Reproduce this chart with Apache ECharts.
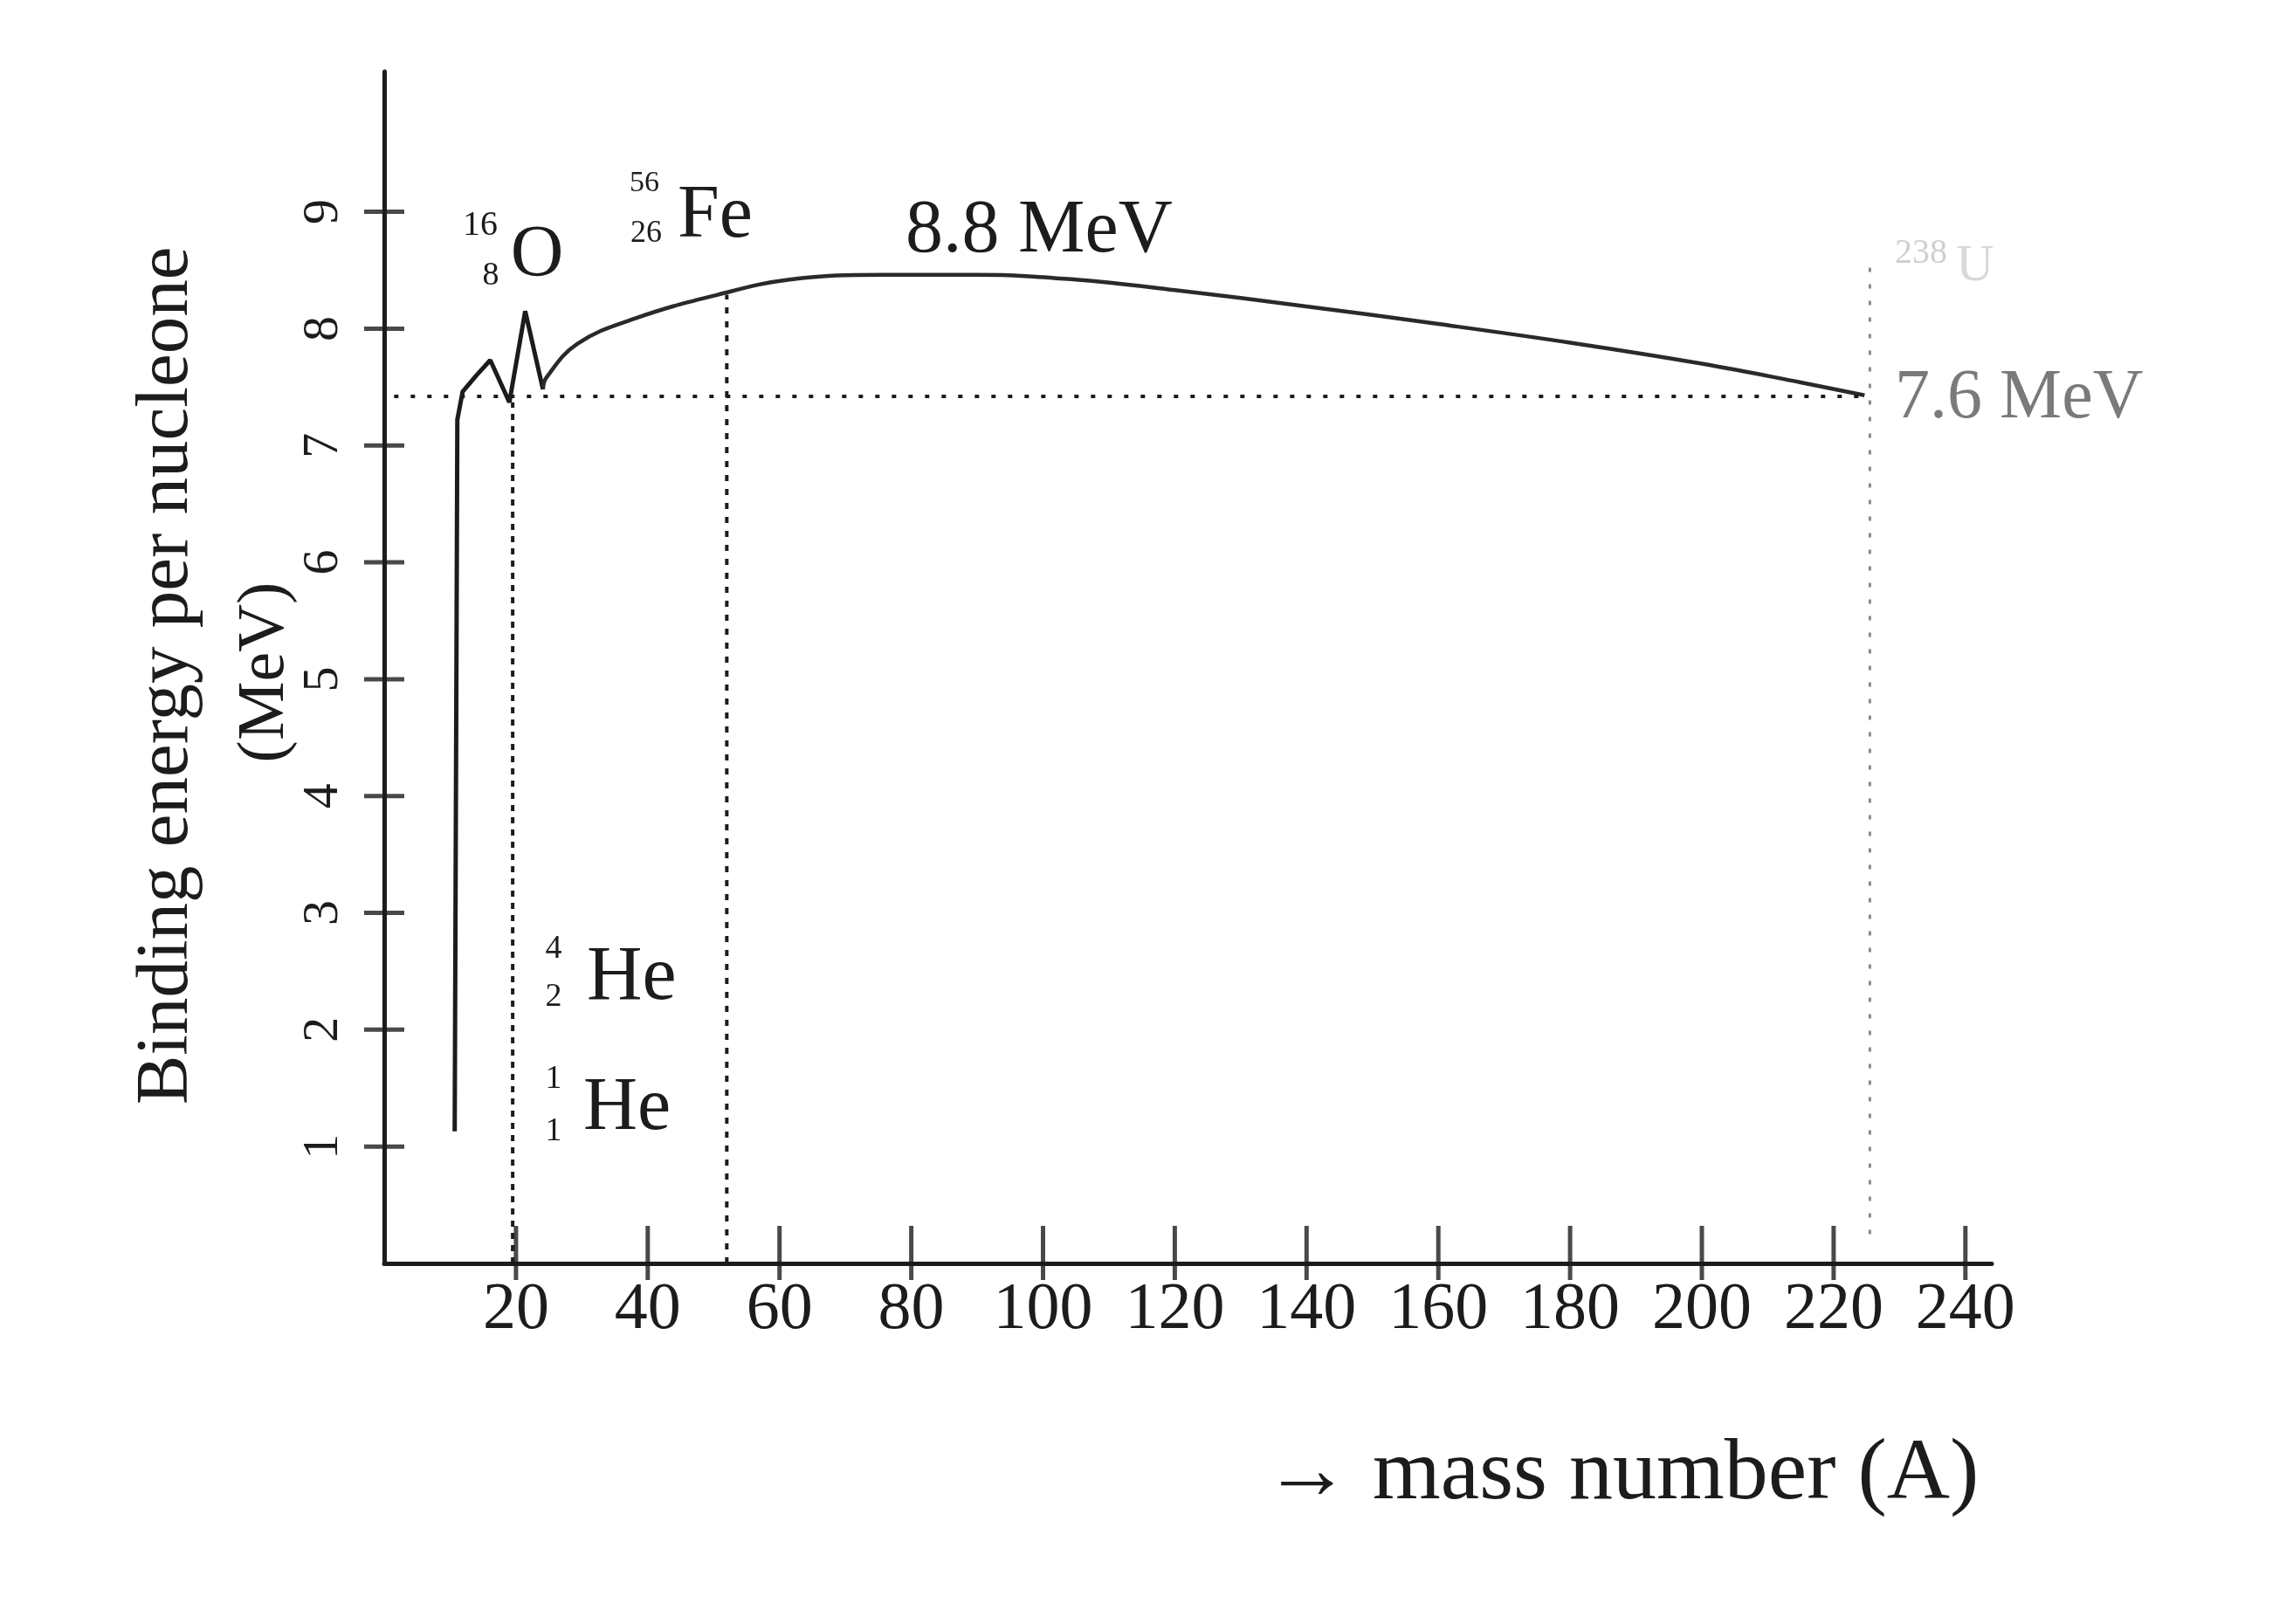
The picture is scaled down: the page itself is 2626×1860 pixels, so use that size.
<!DOCTYPE html>
<html>
<head>
<meta charset="utf-8">
<title>Binding energy per nucleone</title>
<script src="https://cdn.jsdelivr.net/npm/echarts@6/dist/echarts.min.js"></script>
<style>
  html, body { margin: 0; padding: 0; background: #fff; }
  #chart { width: 2626px; height: 1860px; }
</style>
</head>
<body>
<div id="chart"></div>
<script>
// light nuclei, jagged start of the curve
const lightA  = [10.7, 11.1, 11.9, 14.0, 16.1, 19.0, 21.4, 24.1]
const lightBE = [1.13, 7.22, 7.46, 7.60, 7.73, 7.37, 8.15, 7.48]

// main smooth curve
const curveA  = [24.1, 24.6, 29.3, 38.2, 50.6, 61.5, 75.7, 90, 105, 120, 140, 160, 180, 200, 215, 224.7]
const curveBE = [7.48, 7.58, 7.87, 8.09, 8.29, 8.42, 8.46, 8.46, 8.42, 8.33, 8.19, 8.04, 7.88, 7.70, 7.54, 7.43]

// dotted guide lines
const levelA = [1.5, 224.7]
const levelBE = 7.42
const oxyA = 19.5, oxyTop = 7.37
const feA = 52, feTop = 8.29
const uA = 225.5, uTop = 8.6, uBottom = 0.25

// tick values
const xTicks = [20, 40, 60, 80, 100, 120, 140, 160, 180, 200, 220, 240]
const yTicks = [1, 2, 3, 4, 5, 6, 7, 8, 9]

const SERIF = '"Liberation Serif", "DejaVu Serif", serif'
const INK = '#1c1c1c'

let zip = (xs, ys) => xs.map((x, i) => [x, ys[i]])
let vline = (x, y0, y1) => [[x, y0], [x, y1]]

let txt = (text, x, y, size, opts = {}) => ({
  type: 'text',
  x: x, y: y,
  rotation: opts.rotation || 0,
  style: {
    text: text,
    fontSize: size,
    fontFamily: SERIF,
    fill: opts.fill || INK,
    textAlign: opts.align || 'left',
    align: opts.align || 'left',
    textVerticalAlign: 'middle',
    verticalAlign: 'middle'
  }
})

const chart = echarts.init(document.getElementById('chart'))

const option = {
  backgroundColor: '#fff',
  animation: false,
  grid: { left: 440, right: 345, top: 82, bottom: 413 },
  xAxis: {
    type: 'value',
    min: 0, max: 244, interval: 20,
    axisLine: { lineStyle: { color: INK, width: 5 } },
    axisTick: { show: false },
    splitLine: { show: false },
    axisLabel: {
      margin: 16,
      fontSize: 76,
      fontFamily: SERIF,
      color: INK,
      formatter: v => (v > 0 && v % 20 === 0) ? String(v) : ''
    }
  },
  yAxis: {
    type: 'value',
    min: 0, max: 10.2, interval: 1,
    axisLine: { show: true, lineStyle: { color: INK, width: 5 } },
    axisTick: { show: false },
    splitLine: { show: false },
    axisLabel: {
      margin: 40,
      rotate: 90,
      fontSize: 58,
      fontFamily: SERIF,
      color: INK,
      formatter: v => (v >= 1 && v <= 9) ? String(v) : ''
    }
  },
  series: [
    {
      name: 'x ticks', type: 'scatter', clip: false, silent: true,
      symbol: 'rect', symbolSize: [5, 62], symbolOffset: [0, -12],
      itemStyle: { color: INK },
      data: xTicks.map(v => [v, 0])
    },
    {
      name: 'y ticks', type: 'scatter', clip: false, silent: true,
      symbol: 'rect', symbolSize: [46, 5],
      itemStyle: { color: INK },
      data: yTicks.map(v => [0, v])
    },
    {
      name: 'light nuclei', type: 'line', showSymbol: false, clip: false,
      lineStyle: { color: INK, width: 5 },
      data: zip(lightA, lightBE)
    },
    {
      name: 'curve', type: 'line', smooth: 0.4, showSymbol: false,
      lineStyle: { color: '#2a2a2a', width: 4.5 },
      data: zip(curveA, curveBE)
    },
    {
      name: '7.6 MeV level', type: 'line', showSymbol: false,
      lineStyle: { color: INK, width: 4, type: [5, 14] },
      data: levelA.map(a => [a, levelBE])
    },
    {
      name: 'O line', type: 'line', showSymbol: false,
      lineStyle: { color: INK, width: 4, type: [7, 7] },
      data: vline(oxyA, 0, oxyTop)
    },
    {
      name: 'Fe line', type: 'line', showSymbol: false,
      lineStyle: { color: INK, width: 4, type: [7, 9] },
      data: vline(feA, 0, feTop)
    },
    {
      name: 'U line', type: 'line', showSymbol: false,
      lineStyle: { color: '#8a8a8a', width: 3, type: [5, 14] },
      data: vline(uA, uBottom, uTop)
    }
  ],
  graphic: [
    // axis titles
    txt('Binding energy per nucleone', 192, 774, 85, { rotation: Math.PI / 2, align: 'center' }),
    txt('(MeV)', 304, 770, 76, { rotation: Math.PI / 2, align: 'center' }),
    txt('\u2192 mass number (A)', 1447, 1690, 100),

    // 16/8 O
    txt('16', 550, 258, 40, { align: 'center' }),
    txt('8', 562, 316, 38, { align: 'center' }),
    txt('O', 615, 294, 84, { align: 'center' }),

    // 56/26 Fe
    txt('56', 738, 210, 34, { align: 'center' }),
    txt('26', 740, 268, 36, { align: 'center' }),
    txt('Fe', 776, 248, 86),

    txt('8.8 MeV', 1037, 265, 86),
    txt('7.6 MeV', 2170, 457, 80, { fill: '#7a7a7a' }),

    // faint 238 U label
    txt('238', 2200, 290, 40, { fill: '#cfcfcf', align: 'center' }),
    txt('U', 2262, 305, 60, { fill: '#d8d8d8', align: 'center' }),

    // 4/2 He
    txt('4', 634, 1087, 38, { align: 'center' }),
    txt('2', 634, 1142, 38, { align: 'center' }),
    txt('He', 672, 1121, 88),

    // 1/1 He
    txt('1', 634, 1236, 38, { align: 'center' }),
    txt('1', 634, 1296, 38, { align: 'center' }),
    txt('He', 668, 1270, 86)
  ]
}

chart.setOption(option)
</script>
</body>
</html>
